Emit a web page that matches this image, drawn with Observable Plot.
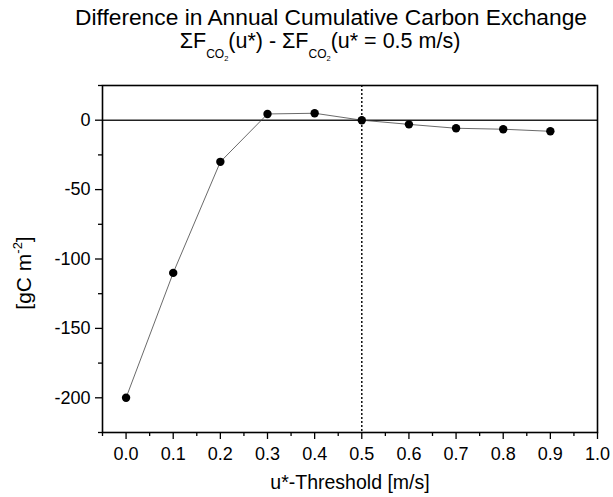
<!DOCTYPE html>
<html>
<head>
<meta charset="utf-8">
<script src="https://cdn.jsdelivr.net/npm/d3@7"></script>
<script src="https://cdn.jsdelivr.net/npm/@observablehq/plot@0.6"></script>
<style>
  html, body { margin: 0; padding: 0; background: #fff; }
  #chart svg { display: block; }
</style>
</head>
<body>
<div id="chart"></div>
<script>
// ---- data ----
const thresholds = [0.0, 0.1, 0.2, 0.3, 0.4, 0.5, 0.6, 0.7, 0.8, 0.9];
const differences = [-200, -110, -30, 4.5, 5, 0, -3, -5.8, -6.5, -8];
const xMajorTicks = [0.0, 0.1, 0.2, 0.3, 0.4, 0.5, 0.6, 0.7, 0.8, 0.9, 1.0];
const xMinorTicks = [-0.05, 0.05, 0.15, 0.25, 0.35, 0.45, 0.55, 0.65, 0.75, 0.85, 0.95];
const yMajorTicks = [-200, -150, -100, -50, 0];
const yMinorTicks = [-225, -175, -125, -75, -25, 25];
const referenceThreshold = 0.5;
const titleText = "Difference in Annual Cumulative Carbon Exchange";
const xLabelText = "u*-Threshold [m/s]";

const data = thresholds.map((x, i) => ({x, y: differences[i]}));

const font = "'Liberation Sans', Arial, Helvetica, sans-serif";

const chart = Plot.plot({
  width: 613,
  height: 497,
  marginLeft: 102,
  marginRight: 16,
  marginTop: 85,
  marginBottom: 65,
  style: {fontFamily: font, fontSize: "18px", color: "black", background: "white"},
  x: {domain: [-0.05, 1.0]},
  y: {domain: [-225, 25]},
  marks: [
    Plot.ruleY([0], {stroke: "#222", strokeWidth: 1.5}),
    Plot.ruleX([referenceThreshold], {stroke: "#111", strokeWidth: 1.5, strokeDasharray: "2,2"}),
    Plot.line(data, {x: "x", y: "y", stroke: "#444", strokeWidth: 0.8}),
    Plot.dot(data, {x: "x", y: "y", r: 4.2, fill: "black", stroke: "none"}),
    Plot.axisY(yMajorTicks, {tickSize: 7, tickPadding: 5, fontSize: 18, label: null, strokeWidth: 1.3, tickFormat: d => String(d)}),
    Plot.axisY(yMinorTicks, {tickSize: 4, text: null, label: null, strokeWidth: 1.3}),
    Plot.axisX(xMajorTicks, {tickSize: 7, tickPadding: 8, fontSize: 18, label: null, tickFormat: d => d.toFixed(1), strokeWidth: 1.3}),
    Plot.axisX(xMinorTicks, {tickSize: 4, text: null, label: null, strokeWidth: 1.3}),
    Plot.frame({stroke: "black", strokeWidth: 1.6})
  ]
});

document.getElementById("chart").appendChild(chart);

const svg = d3.select(chart);
const g = svg.append("g").attr("font-family", font).attr("fill", "black");

// Title
g.append("text")
  .attr("x", 331).attr("y", 25)
  .attr("text-anchor", "middle")
  .attr("font-size", 22)
  .attr("textLength", 512)
  .attr("lengthAdjust", "spacingAndGlyphs")
  .text(titleText);

// Subtitle with subscripts
const sub = g.append("text")
  .attr("x", 320).attr("y", 48)
  .attr("text-anchor", "middle")
  .attr("font-size", 21.5);
sub.append("tspan").text("ΣF");
sub.append("tspan").attr("font-size", 12).attr("dy", 10).text("CO");
sub.append("tspan").attr("font-size", 7.5).attr("dy", 3).text("2");
sub.append("tspan").attr("dy", -13).text("(u*) - ΣF");
sub.append("tspan").attr("font-size", 12).attr("dy", 10).text("CO");
sub.append("tspan").attr("font-size", 7.5).attr("dy", 3).text("2");
sub.append("tspan").attr("dy", -13).text("(u* = 0.5 m/s)");

// Y label
const yl = g.append("text")
  .attr("transform", "translate(31,273) rotate(-90)")
  .attr("text-anchor", "middle")
  .attr("font-size", 21);
yl.append("tspan").text("[gC m");
yl.append("tspan").attr("font-size", 13).attr("dy", -9).text("-2");
yl.append("tspan").attr("dy", 9).text("]");

// X label
g.append("text")
  .attr("x", 350).attr("y", 489)
  .attr("text-anchor", "middle")
  .attr("font-size", 19.5)
  .text(xLabelText);
</script>
</body>
</html>
